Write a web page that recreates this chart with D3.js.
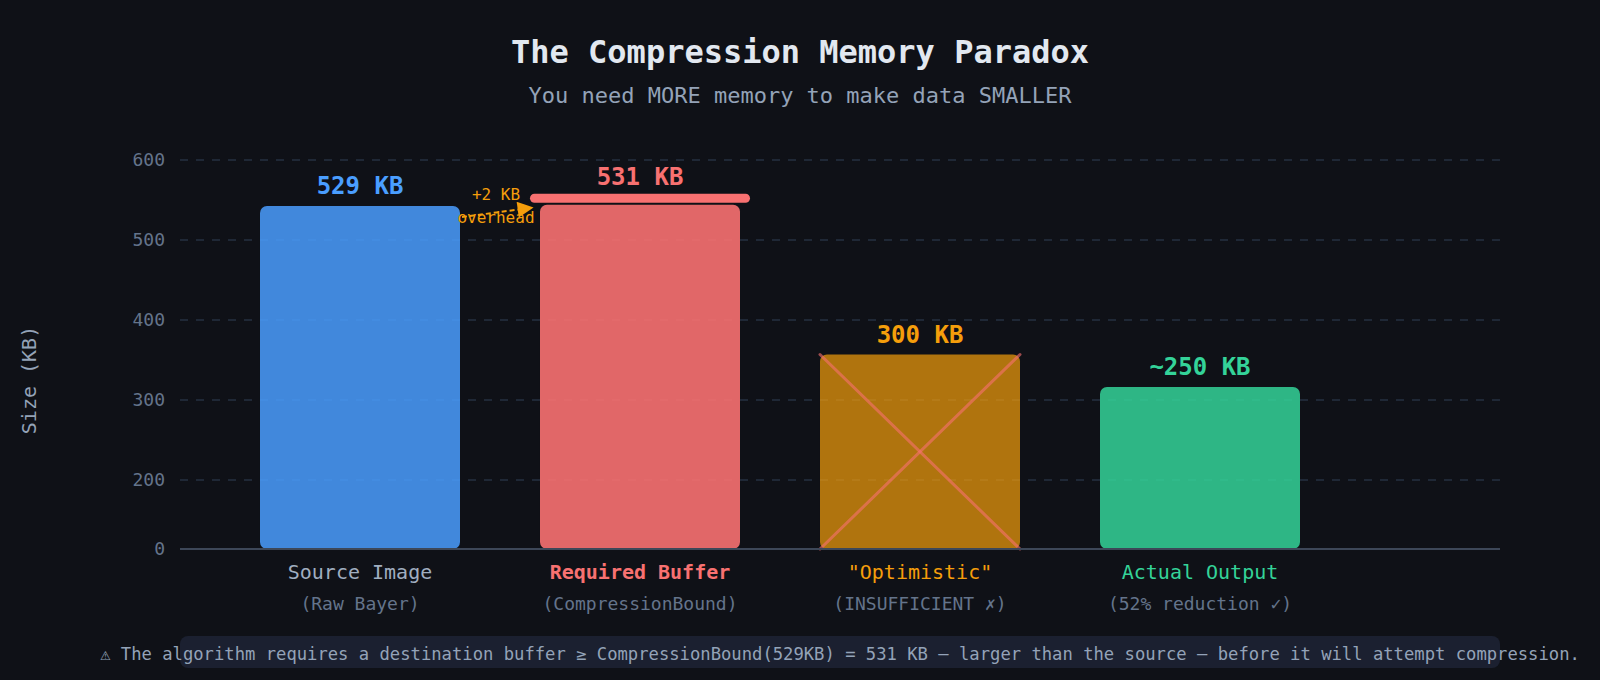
<!DOCTYPE html>
<html>
<head>
<meta charset="utf-8">
<script src="https://cdn.jsdelivr.net/npm/d3@7"></script>
<style>
  html, body { margin: 0; padding: 0; background: #0f1117; }
  svg { display: block; }
</style>
</head>
<body>
<div id="chart"></div>
<script>
// data
const categories = ["Source Image", "Required Buffer", "\"Optimistic\"", "Actual Output"];
const subLabels = ["(Raw Bayer)", "(CompressionBound)", "(INSUFFICIENT \u2717)", "(52% reduction \u2713)"];
const sizesKB = [529, 531, 300, 250];
const valueLabels = ["529 KB", "531 KB", "300 KB", "~250 KB"];
const gridTicks = [600, 500, 400, 300, 200];
const footerText = "\u26a0 The algorithm requires a destination buffer \u2265 CompressionBound(529KB) = 531 KB \u2014 larger than the source \u2014 before it will attempt compression.";

// styles
const barColors = ["#4a9eff", "#f87171", "#f59e0b", "#34d399"];
const barOpacity = [0.85, 0.9, 0.7, 0.85];
const catColors = ["#a0aec0", "#f87171", "#f59e0b", "#34d399"];
const FONT = "'DejaVu Sans Mono', monospace";

const width = 1600, height = 680;
const plotLeft = 180, plotRight = 1500, baseY = 549, topY = 160;

const svg = d3.select("#chart").append("svg")
  .attr("width", width)
  .attr("height", height)
  .style("background", "#0f1117")
  .style("font-family", FONT);

const x = d3.scaleBand()
  .domain(categories)
  .range([plotLeft, 1380])
  .paddingInner(0.2857)
  .paddingOuter(0.2857);

// bars use their own scale from the baseline
const y = d3.scaleLinear().domain([0, 600]).range([baseY, topY]);
// the grid labels are spaced evenly from the top, as in the reference
const yGrid = d3.scaleLinear().domain([200, 600]).range([480, topY]);

// title
svg.append("text")
  .attr("x", width / 2).attr("y", 63)
  .attr("text-anchor", "middle")
  .attr("fill", "#e2e8f0")
  .attr("font-size", 32).attr("font-weight", "bold")
  .text("The Compression Memory Paradox");

svg.append("text")
  .attr("x", width / 2).attr("y", 103)
  .attr("text-anchor", "middle")
  .attr("fill", "#94a3b8")
  .attr("font-size", 22)
  .text("You need MORE memory to make data SMALLER");

// grid
const grid = svg.append("g").attr("class", "grid");
grid.selectAll("line")
  .data(gridTicks)
  .enter().append("line")
  .attr("x1", plotLeft).attr("x2", plotRight)
  .attr("y1", d => yGrid(d)).attr("y2", d => yGrid(d))
  .attr("stroke", "#263041")
  .attr("stroke-width", 1.5)
  .attr("stroke-dasharray", "8,8");

// y axis labels
const yAxis = svg.append("g")
  .attr("transform", `translate(${plotLeft - 15},0)`)
  .call(d3.axisLeft(yGrid).tickValues(gridTicks).tickSize(0).tickPadding(0));
yAxis.select(".domain").remove();
yAxis.selectAll("text")
  .attr("fill", "#64748b")
  .attr("font-size", 18)
  .attr("font-family", FONT);

svg.append("text")
  .attr("x", plotLeft - 15).attr("y", y(0))
  .attr("dy", "0.32em")
  .attr("text-anchor", "end")
  .attr("fill", "#64748b")
  .attr("font-size", 18)
  .text("0");

svg.append("text")
  .attr("transform", `translate(36,380) rotate(-90)`)
  .attr("text-anchor", "middle")
  .attr("fill", "#94a3b8")
  .attr("font-size", 20)
  .text("Size (KB)");

// bars
const bars = svg.append("g").attr("class", "bars");
bars.selectAll("rect")
  .data(sizesKB)
  .enter().append("rect")
  .attr("x", (d, i) => x(categories[i]))
  .attr("y", d => y(d))
  .attr("width", x.bandwidth())
  .attr("height", d => y(0) - y(d))
  .attr("rx", 7)
  .attr("fill", (d, i) => barColors[i])
  .attr("fill-opacity", (d, i) => barOpacity[i]);

// cap on the required buffer
const bx1 = x(categories[1]);
svg.append("rect")
  .attr("x", bx1 - 10)
  .attr("y", y(sizesKB[1]) - 11)
  .attr("width", x.bandwidth() + 20)
  .attr("height", 9)
  .attr("rx", 4.5)
  .attr("fill", "#f87171");

// cross on the optimistic bar
const bx2 = x(categories[2]);
const crossG = svg.append("g")
  .attr("stroke", "#f87171")
  .attr("stroke-width", 3)
  .attr("stroke-opacity", 0.6)
  .attr("stroke-linecap", "round");
crossG.append("line")
  .attr("x1", bx2).attr("y1", y(sizesKB[2]))
  .attr("x2", bx2 + x.bandwidth()).attr("y2", y(0));
crossG.append("line")
  .attr("x1", bx2 + x.bandwidth()).attr("y1", y(sizesKB[2]))
  .attr("x2", bx2).attr("y2", y(0));

// baseline
svg.append("line")
  .attr("x1", plotLeft).attr("x2", plotRight)
  .attr("y1", y(0)).attr("y2", y(0))
  .attr("stroke", "#3d4758")
  .attr("stroke-width", 2);

// value labels
svg.append("g").selectAll("text")
  .data(sizesKB)
  .enter().append("text")
  .attr("x", (d, i) => x(categories[i]) + x.bandwidth() / 2)
  .attr("y", (d, i) => y(d) - (i === 1 ? 20 : 12))
  .attr("text-anchor", "middle")
  .attr("fill", (d, i) => barColors[i])
  .attr("font-size", 24)
  .attr("font-weight", "bold")
  .text((d, i) => valueLabels[i]);

// overhead annotation
const defs = svg.append("defs");
defs.append("marker")
  .attr("id", "arrow")
  .attr("viewBox", "0 0 10 10")
  .attr("refX", 9).attr("refY", 5)
  .attr("markerUnits", "userSpaceOnUse")
  .attr("markerWidth", 18).attr("markerHeight", 16)
  .attr("orient", "auto")
  .append("path")
  .attr("d", "M0,0 L10,5 L0,10 Z")
  .attr("fill", "#f59e0b");

const gapLeft = x(categories[0]) + x.bandwidth();
const gapMid = (gapLeft + bx1) / 2 - 4;
svg.append("line")
  .attr("x1", gapLeft + 2).attr("y1", y(sizesKB[0]) + 11)
  .attr("x2", bx1 - 8).attr("y2", y(sizesKB[1]) + 3)
  .attr("stroke", "#f59e0b")
  .attr("stroke-width", 2)
  .attr("stroke-dasharray", "5,3")
  .attr("marker-end", "url(#arrow)");

svg.append("text")
  .attr("x", gapMid).attr("y", 200)
  .attr("text-anchor", "middle")
  .attr("fill", "#f59e0b")
  .attr("font-size", 16)
  .text("+2 KB");
svg.append("text")
  .attr("x", gapMid).attr("y", 223)
  .attr("text-anchor", "middle")
  .attr("fill", "#f59e0b")
  .attr("font-size", 16)
  .text("overhead");

// category labels
const catG = svg.append("g");
catG.selectAll("text.cat")
  .data(categories)
  .enter().append("text")
  .attr("class", "cat")
  .attr("x", d => x(d) + x.bandwidth() / 2)
  .attr("y", 579)
  .attr("text-anchor", "middle")
  .attr("fill", (d, i) => catColors[i])
  .attr("font-size", 20)
  .attr("font-weight", (d, i) => i === 1 ? "bold" : "normal")
  .text(d => d);

catG.selectAll("text.sub")
  .data(subLabels)
  .enter().append("text")
  .attr("class", "sub")
  .attr("x", (d, i) => x(categories[i]) + x.bandwidth() / 2)
  .attr("y", 610)
  .attr("text-anchor", "middle")
  .attr("fill", "#64748b")
  .attr("font-size", 18)
  .text(d => d);

// footer note (shrunk a little so the whole sentence stays on the page)
svg.append("rect")
  .attr("x", plotLeft).attr("y", 636)
  .attr("width", plotRight - plotLeft).attr("height", 32)
  .attr("rx", 8)
  .attr("fill", "#1b2030");
svg.append("text")
  .attr("x", (plotLeft + plotRight) / 2).attr("y", 660)
  .attr("text-anchor", "middle")
  .attr("fill", "#94a3b8")
  .attr("font-size", 17.2)
  .text(footerText);
</script>
</body>
</html>
